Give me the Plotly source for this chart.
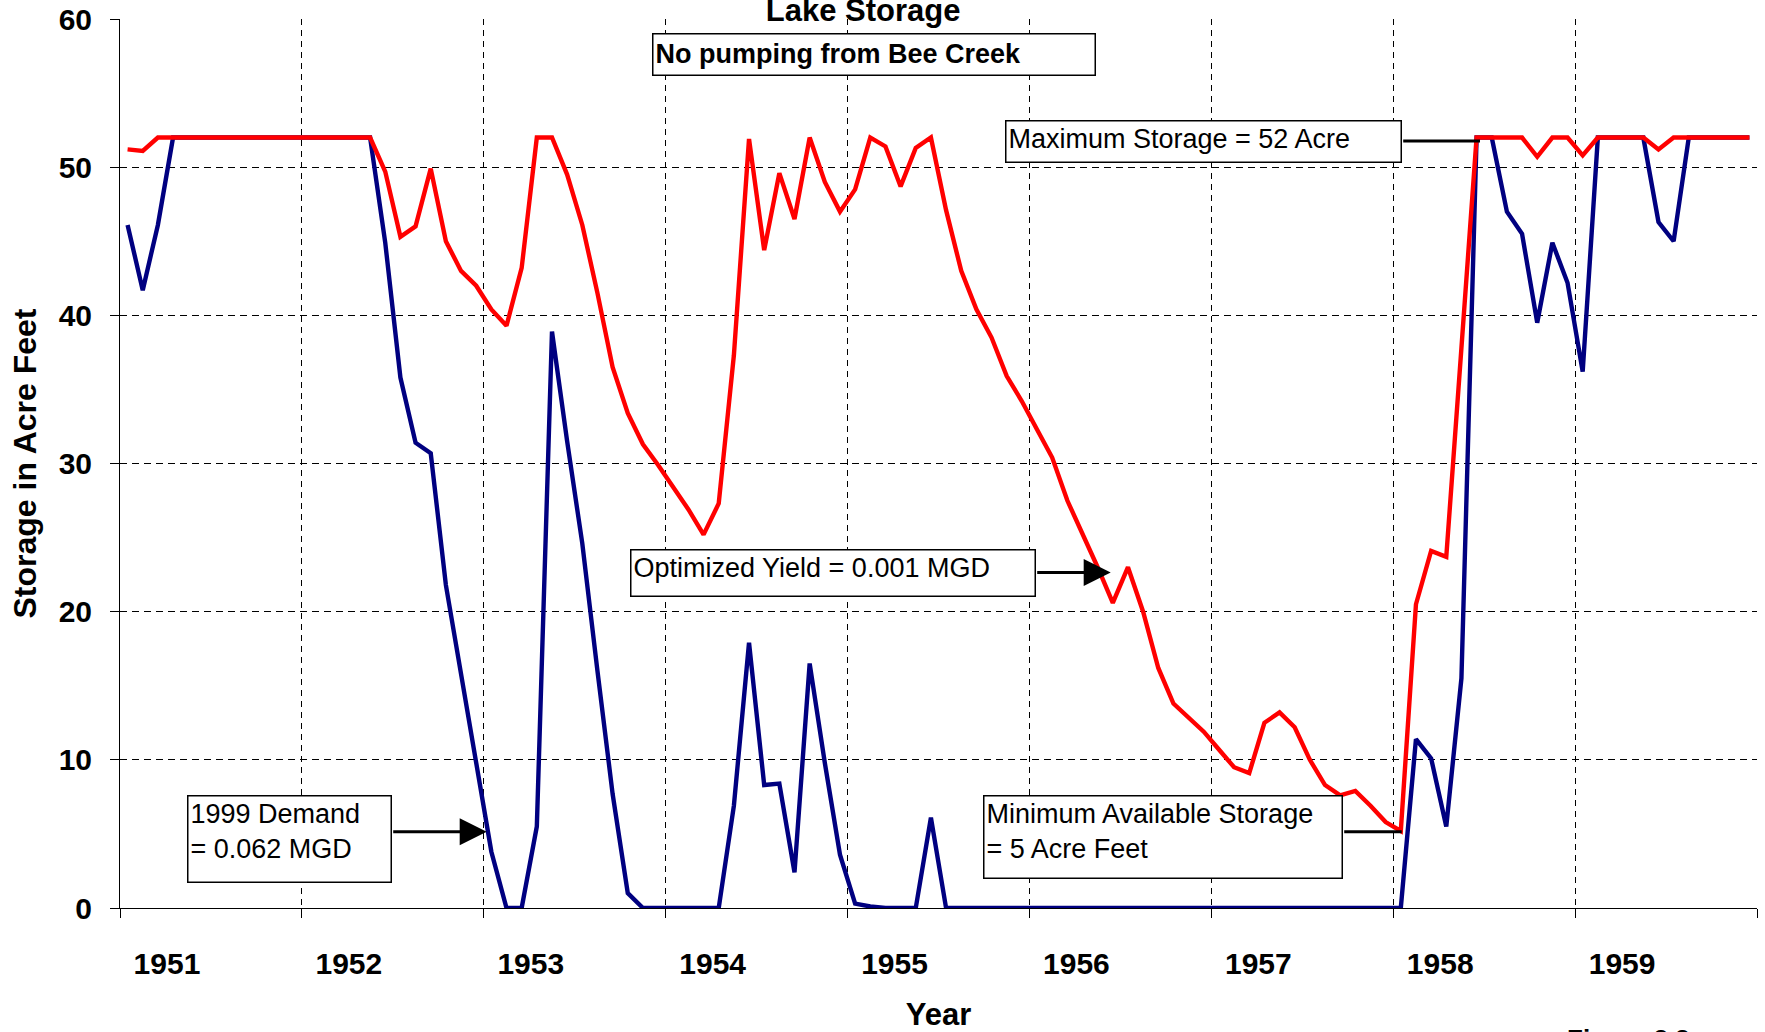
import plotly.graph_objects as go

# ---------------- data ----------------
years = ["1951", "1952", "1953", "1954", "1955", "1956", "1957", "1958", "1959"]
months_per_year = 12

demand_1999 = [
    46.1, 41.7, 46.1, 52, 52, 52, 52, 52, 52, 52, 52, 52,          # 1951
    52, 52, 52, 52, 52, 44.9, 35.8, 31.4, 30.7, 21.8, 15.7, 10.0,  # 1952
    3.8, 0, 0, 5.5, 38.9, 31.5, 24.6, 16.0, 7.7, 1.0, 0, 0,        # 1953
    0, 0, 0, 0, 6.9, 17.9, 8.3, 8.4, 2.4, 16.5, 9.8, 3.6,          # 1954
    0.3, 0.1, 0, 0, 0, 6.1, 0, 0, 0, 0, 0, 0,                      # 1955
    0, 0, 0, 0, 0, 0, 0, 0, 0, 0, 0, 0,                            # 1956
    0, 0, 0, 0, 0, 0, 0, 0, 0, 0, 0, 0,                            # 1957
    0, 11.4, 10.1, 5.5, 15.5, 52, 52, 47.0, 45.5, 39.5, 44.9, 42.2,  # 1958
    36.2, 52, 52, 52, 52, 46.3, 45.0, 52, 52, 52, 52, 52,          # 1959
]

optimized_yield = [
    51.2, 51.1, 52, 52, 52, 52, 52, 52, 52, 52, 52, 52,            # 1951
    52, 52, 52, 52, 52, 49.7, 45.3, 46.0, 49.9, 45.0, 43.0, 42.0,  # 1952
    40.4, 39.3, 43.2, 52, 52, 49.5, 46.1, 41.5, 36.5, 33.4, 31.3, 29.9,  # 1953
    28.4, 26.9, 25.2, 27.3, 37.3, 51.9, 44.4, 49.6, 46.5, 52, 49.0, 47.0,  # 1954
    48.5, 52.0, 51.4, 48.7, 51.3, 52.0, 47.1, 43.0, 40.4, 38.5, 35.9, 34.2,  # 1955
    32.3, 30.4, 27.5, 25.3, 23.0, 20.6, 23.0, 20.0, 16.2, 13.8, 12.8, 11.9,  # 1956
    10.7, 9.5, 9.1, 12.5, 13.2, 12.2, 10.0, 8.3, 7.6, 7.9, 6.9, 5.8,       # 1957
    5.2, 20.5, 24.1, 23.7, 37.8, 52, 52, 52, 52, 50.7, 52, 52,             # 1958
    50.8, 52, 52, 52, 52, 51.2, 52, 52, 52, 52, 52, 52,                    # 1959
]

y_ticks = [0, 10, 20, 30, 40, 50, 60]

n = len(years) * months_per_year
month_index = list(range(n))
LABEL_OFFSET = 2.6   # year label sits over the 3rd-4th month, as in the original
year_label_pos = [k * months_per_year + LABEL_OFFSET for k in range(len(years))]
year_bounds = [k * months_per_year - 0.5 for k in range(len(years) + 1)]

FONT = "Arial, Liberation Sans, sans-serif"

fig = go.Figure()
fig.add_trace(go.Scatter(x=month_index, y=demand_1999, mode="lines",
                         line=dict(color="#000080", width=4.4), name="1999 Demand",
                         showlegend=False))
fig.add_trace(go.Scatter(x=month_index, y=optimized_yield, mode="lines",
                         line=dict(color="#FF0000", width=4.4), name="Optimized Yield",
                         showlegend=False))

fig.update_layout(
    width=1765, height=1032,
    margin=dict(l=120, r=8, t=19, b=124),
    paper_bgcolor="white", plot_bgcolor="white",
    font=dict(family=FONT, color="black"),
    title=dict(text="<b>Lake Storage</b>", x=0.489, xanchor="center",
               y=0.9905, yanchor="middle", yref="container",
               font=dict(size=31, family=FONT, color="black")),
    xaxis=dict(
        range=[-0.5, n - 0.5], automargin=False,
        tickmode="array", tickvals=year_label_pos, ticktext=["<b>%s</b>" % y for y in years],
        ticks="", showgrid=False, zeroline=False,
        showline=True, linecolor="black", linewidth=1,
        tickfont=dict(size=30, family=FONT, color="black"),
        ticklabelstandoff=29,
        minor=dict(tickmode="array", tickvals=year_bounds, ticks="outside",
                   ticklen=9, tickwidth=1, tickcolor="black",
                   showgrid=True, gridcolor="black", gridwidth=1, griddash="6px,5px"),
        title=dict(text="<b>Year</b>", font=dict(size=31, family=FONT, color="black"),
                   standoff=27),
    ),
    yaxis=dict(
        range=[0, 60], automargin=False,
        tickmode="array", tickvals=y_ticks, ticktext=["<b>%d</b>" % v for v in y_ticks],
        ticks="outside", ticklen=9, tickwidth=1, tickcolor="black",
        showgrid=False, zeroline=False,
        showline=True, linecolor="black", linewidth=1,
        tickfont=dict(size=30, family=FONT, color="black"),
        ticklabelstandoff=12,
        minor=dict(tickmode="array", tickvals=y_ticks[1:-1], ticks="",
                   showgrid=True, gridcolor="black", gridwidth=1, griddash="7px,5px"),
        title=dict(text="<b>Storage in Acre Feet</b>",
                   font=dict(size=32, family=FONT, color="black"), standoff=12),
    ),
)

# pixel -> data helpers for annotation placement
PX_L, PX_R, PX_T, PX_B = 120.0, 1757.0, 19.0, 908.0
def dx(px):
    return (px - PX_L) / (PX_R - PX_L) * n - 0.5
def dy(py):
    return (PX_B - py) / (PX_B - PX_T) * 60

BOX = dict(bgcolor="white", bordercolor="black", borderwidth=1.5, borderpad=2,
           showarrow=False, xref="x", yref="y", xanchor="left", yanchor="top",
           align="left")

def box(text, left, top, w, h, bold=False, valign="top"):
    fig.add_annotation(
        text=("<b>%s</b>" % text) if bold else text,
        x=dx(left), y=dy(top), width=w - 7, height=h - 7, valign=valign,
        font=dict(size=27, family=FONT, color="black"), **BOX)

box("No pumping from Bee Creek", 651.7, 33.3, 444, 42.7, bold=True, valign="middle")
box("Maximum Storage = 52 Acre", 1005, 120, 396.7, 43.3)
box("Optimized Yield = 0.001 MGD", 630, 548.5, 405.7, 47.5)
box("1999 Demand<br>= 0.062 MGD", 186.7, 794.5, 205, 88.3)
box("Minimum Available Storage<br>= 5 Acre Feet", 982.7, 794.5, 360, 84.2)

def arrow(tail_px, tip_px, head):
    fig.add_annotation(
        text="", x=dx(tip_px[0]), y=dy(tip_px[1]), ax=dx(tail_px[0]), ay=dy(tail_px[1]),
        xref="x", yref="y", axref="x", ayref="y", showarrow=True,
        arrowhead=2 if head else 0, arrowsize=1.8, arrowwidth=3, arrowcolor="black",
        standoff=0, startstandoff=0)

arrow((1401.7, 141), (1480, 141), False)
arrow((1035.7, 572.6), (1110.7, 572.6), True)
arrow((391.7, 831.7), (486.7, 831.7), True)
arrow((1342.7, 831.7), (1401.7, 831.7), False)

# figure caption, cut off by the page bottom as in the original
fig.add_annotation(text="<b>Figure 3.3-a</b>", xref="paper", yref="paper",
                   x=(1565 - PX_L) / (PX_R - PX_L), y=-(1022 - PX_B) / (PX_B - PX_T),
                   xanchor="left", yanchor="top", showarrow=False,
                   font=dict(size=26, family=FONT, color="black"))

fig.write_html("out.html")
